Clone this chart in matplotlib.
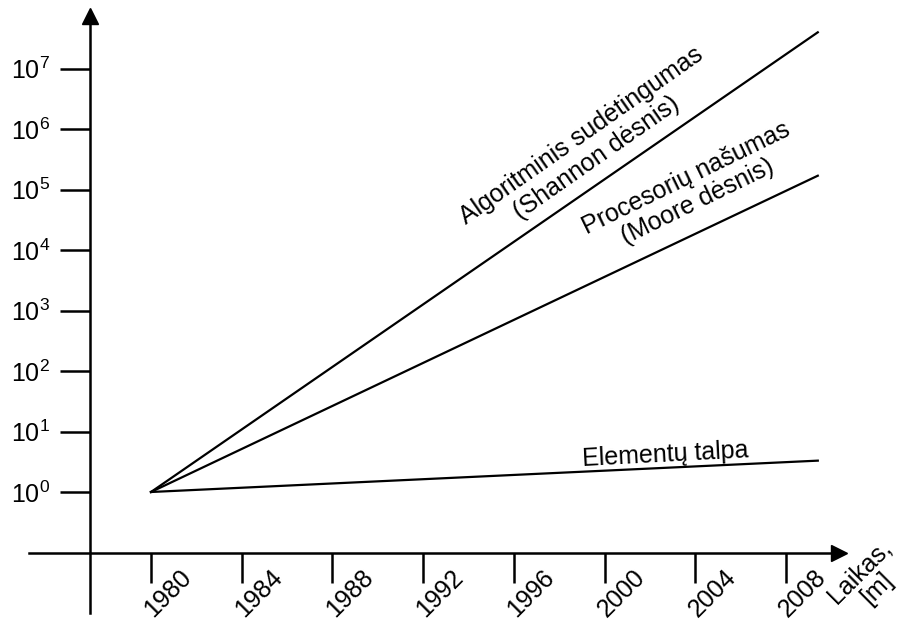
import numpy as np
import matplotlib
matplotlib.use('Agg')
import matplotlib.pyplot as plt
from matplotlib.ticker import NullLocator
from matplotlib.transforms import ScaledTranslation

# Šriftai panašūs į Arial
plt.rcParams['font.family'] = ['Liberation Sans', 'DejaVu Sans']
plt.rcParams['mathtext.fontset'] = 'custom'
plt.rcParams['mathtext.rm'] = 'Liberation Sans'
plt.rcParams['mathtext.it'] = 'Liberation Sans:italic'
plt.rcParams['mathtext.bf'] = 'Liberation Sans:bold'

# Duomenys
metai = [1980, 2009.4]
algoritmai = [1, 4e7]      # Shannon dėsnis
procesoriai = [1, 1.7e5]   # Moore dėsnis
talpa = [1, 3.3]           # Elementų talpa

x_ticks = [1980, 1984, 1988, 1992, 1996, 2000, 2004, 2008]
y_ticks = [1e0, 1e1, 1e2, 1e3, 1e4, 1e5, 1e6, 1e7]
y_labels = [r'$\mathdefault{10^{%d}}$' % k for k in range(8)]

W, H = 912, 626
px_per_year = 22.68
px_per_dec = 60.47
fs = 18

def px_x(p):
    # pikselis -> metai
    return 1980 + (p - 151) / px_per_year

def px_y(p):
    # pikselis (nuo viršaus) -> reikšmė log skalėje
    return 10 ** ((492 - p) / px_per_dec)

fig = plt.figure(figsize=(W / 100, H / 100), dpi=100)
ax = fig.add_axes([0, 0, 1, 1])
ax.set_yscale('log')
ax.set_xlim(px_x(0), px_x(W))
ax.set_ylim(px_y(H), px_y(0))

lw_axis = 1.8
lw_line = 1.6

# Ašys su rodyklėmis
ax.spines['top'].set_visible(False)
ax.spines['right'].set_visible(False)
ax.spines['left'].set_position(('data', px_x(90)))
ax.spines['bottom'].set_position(('data', px_y(553)))
ax.spines['left'].set_bounds(px_y(613), px_y(18))
ax.spines['bottom'].set_bounds(px_x(29), px_x(836))
ax.spines['left'].set_linewidth(lw_axis)
ax.spines['bottom'].set_linewidth(lw_axis)
ax.plot(px_x(90), px_y(16), marker='^', ms=11, color='k', clip_on=False)
ax.plot(px_x(839), px_y(553), marker='>', ms=11, color='k', clip_on=False)

# Padalos
ax.set_yticks(y_ticks)
ax.set_yticklabels(y_labels)
ax.yaxis.set_minor_locator(NullLocator())
ax.set_xticks(x_ticks)
ax.set_xticklabels([str(t) for t in x_ticks], rotation=45, ha='center', va='top')
ax.tick_params(axis='both', direction='out', length=21.6, width=lw_axis,
               labelsize=fs, color='k')
ax.tick_params(axis='y', pad=7)
ax.tick_params(axis='x', pad=0)
for lab in ax.get_xticklabels():
    lab.set_transform(lab.get_transform() + ScaledTranslation(0.17, 0.18, fig.dpi_scale_trans))

# Linijos
ax.plot(metai, algoritmai, color='k', lw=lw_line)
ax.plot(metai, procesoriai, color='k', lw=lw_line)
ax.plot(metai, talpa, color='k', lw=lw_line)

# Užrašai
ax.text(px_x(589), px_y(147), 'Algoritminis sudėtingumas\n(Shannon dėsnis)',
        rotation=35, rotation_mode='anchor', ha='center', va='center',
        multialignment='center', fontsize=fs, linespacing=1.15)
ax.text(px_x(692), px_y(190), 'Procesorių našumas\n(Moore dėsnis)',
        rotation=26, rotation_mode='anchor', ha='center', va='center',
        multialignment='center', fontsize=fs, linespacing=1.15)
ax.text(px_x(665), px_y(455), 'Elementų talpa',
        rotation=3, rotation_mode='anchor', ha='center', va='center',
        fontsize=fs)
ax.text(px_x(868), px_y(580), 'Laikas,\n[m]',
        rotation=45, rotation_mode='anchor', ha='center', va='center',
        multialignment='center', fontsize=fs, linespacing=1.0)

fig.savefig('out.png', dpi=100)
